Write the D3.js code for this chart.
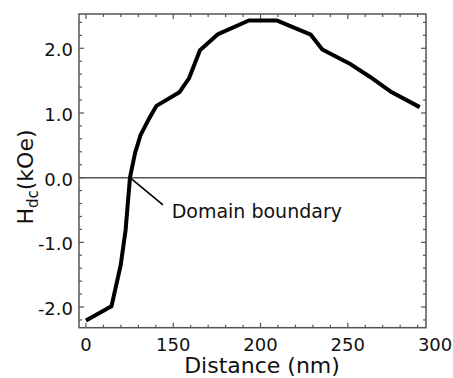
<!DOCTYPE html>
<html>
<head>
<meta charset="utf-8">
<script src="https://cdn.jsdelivr.net/npm/d3@7"></script>
<style>
  html, body { margin: 0; padding: 0; background: #fff; }
  svg { display: block; }
  text { font-family: "DejaVu Sans", Verdana, sans-serif; fill: #111; }
</style>
</head>
<body>
<svg id="chart" width="453" height="378"></svg>
<script>
// ---- data ----
const distance = [100, 114.6, 119.9, 122.7, 125.2, 128.1, 131.3, 135.7, 140.4, 153.5, 159.1, 165.3, 175.7, 193.3, 209.2, 228.8, 235.4, 250.6, 262.6, 275.2, 291.2];
const hdc      = [-2.21, -1.99, -1.35, -0.81, 0.0, 0.38, 0.66, 0.89, 1.11, 1.32, 1.54, 1.97, 2.22, 2.43, 2.43, 2.21, 1.98, 1.77, 1.56, 1.32, 1.09];
const xTickValues = [100, 150, 200, 250, 300];
const xTickLabels = ["0", "150", "200", "250", "300"];
const yTickValues = [2, 1, 0, -1, -2];
const yTickLabels = ["2.0", "1.0", "0.0", "-1.0", "-2.0"];
const annotation = { text: "Domain boundary", from: [125.2, 0], to: [144.1, -0.42], at: [149.1, -0.62] };

// ---- scales ----
const svg = d3.select("#chart");
const x = d3.scaleLinear().domain([96, 294.8]).range([79, 426]);
const y = d3.scaleLinear().domain([-2.32, 2.53]).range([327.7, 14]);
const [x0, x1] = x.range();
const [y0, y1] = y.range(); // y0 bottom, y1 top
const frameColor = "#555";

// zero line
svg.append("line")
  .attr("x1", x0).attr("x2", x1)
  .attr("y1", y(0)).attr("y2", y(0))
  .attr("stroke", frameColor).attr("stroke-width", 1.5);

// minor + major ticks (x)
const xMinor = d3.range(100, 300, 10).filter(v => x(v) >= x0 && x(v) <= x1);
xMinor.forEach(v => {
  const major = (v % 50 === 0);
  const len = major ? 5 : 3;
  [[y0, -len], [y1, len]].forEach(([base, d]) => {
    svg.append("line")
      .attr("x1", x(v)).attr("x2", x(v))
      .attr("y1", base).attr("y2", base + d)
      .attr("stroke", frameColor).attr("stroke-width", 1.2);
  });
});
// ticks (y)
const yMinor = d3.range(-22, 25, 2).map(v => v / 10).filter(v => y(v) <= y0 && y(v) >= y1);
yMinor.forEach(v => {
  const major = Math.abs(v - Math.round(v)) < 1e-6;
  const len = major ? 5 : 3;
  [[x0, len], [x1, -len]].forEach(([base, d]) => {
    svg.append("line")
      .attr("x1", base).attr("x2", base + d)
      .attr("y1", y(v)).attr("y2", y(v))
      .attr("stroke", frameColor).attr("stroke-width", 1.2);
  });
});

// frame
svg.append("rect")
  .attr("x", x0).attr("y", y1)
  .attr("width", x1 - x0).attr("height", y0 - y1)
  .attr("fill", "none").attr("stroke", frameColor).attr("stroke-width", 1.5);

// tick labels
svg.selectAll(".xl").data(xTickValues).enter().append("text")
  .attr("x", d => x(d)).attr("y", 351)
  .attr("text-anchor", "middle").attr("font-size", 18)
  .text((d, i) => xTickLabels[i]);
svg.selectAll(".yl").data(yTickValues).enter().append("text")
  .attr("x", 73).attr("y", d => y(d) + 8)
  .attr("text-anchor", "end").attr("font-size", 18)
  .text((d, i) => yTickLabels[i]);

// axis titles
svg.append("text")
  .attr("x", 262).attr("y", 373)
  .attr("text-anchor", "middle").attr("font-size", 22)
  .text("Distance (nm)");
const yt = svg.append("text")
  .attr("transform", "translate(33,177) rotate(-90)")
  .attr("text-anchor", "middle").attr("font-size", 22);
yt.append("tspan").text("H");
yt.append("tspan").attr("font-size", 15).attr("dy", 5).text("dc");
yt.append("tspan").attr("dy", -5).text("(kOe)");

// curve
svg.append("path")
  .datum(distance.map((d, i) => [d, hdc[i]]))
  .attr("fill", "none").attr("stroke", "#000").attr("stroke-width", 4)
  .attr("stroke-linejoin", "round")
  .attr("d", d3.line().x(d => x(d[0])).y(d => y(d[1])));

// annotation
svg.append("line")
  .attr("x1", x(annotation.from[0])).attr("y1", y(annotation.from[1]))
  .attr("x2", x(annotation.to[0])).attr("y2", y(annotation.to[1]))
  .attr("stroke", "#000").attr("stroke-width", 1.6);
svg.append("text")
  .attr("x", x(annotation.at[0])).attr("y", y(annotation.at[1]))
  .attr("font-size", 19)
  .text(annotation.text);
</script>
</body>
</html>
